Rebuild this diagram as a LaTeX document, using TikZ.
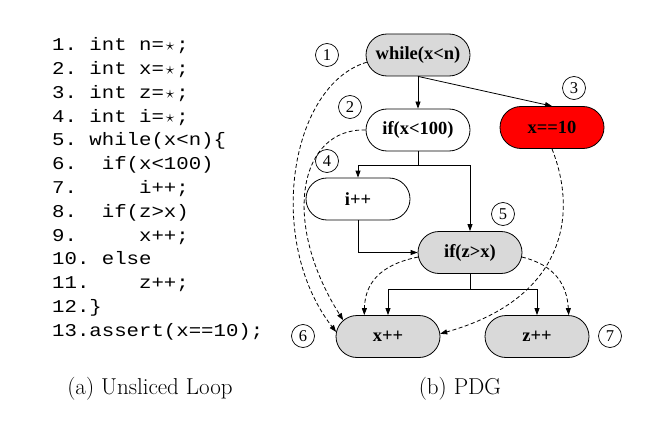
\documentclass[tikz,border=0pt]{standalone}
\usepackage{fontspec}
\usetikzlibrary{shapes.misc,arrows.meta}
\setmainfont{Latin Modern Roman}
\newfontfamily\codefont[FakeStretch=1.15]{Liberation Mono}
\newfontfamily\nodefont{Liberation Serif}
\newcommand\cspc{\hphantom{0}}
\newcommand\cstar{\hbox to \fontcharwd\font`0{\hss$\star$\hss}}
\definecolor{nodegray}{HTML}{D9D9D9}
\definecolor{nodered}{HTML}{FF0000}
\tikzset{
  pdg/.style={rounded rectangle, draw, line width=0.8pt, minimum width=104pt, minimum height=42pt,
    inner sep=0pt, font=\nodefont\bfseries\fontsize{18.5}{22}\selectfont},
  numc/.style={circle, draw, line width=0.7pt, minimum size=23pt, inner sep=0pt,
    font=\nodefont\fontsize{16.5}{18}\selectfont},
  codeline/.style={anchor=base west, inner sep=0pt, font=\codefont\fontsize{18}{20}\selectfont},
  captext/.style={anchor=base, inner sep=0pt, font=\fontsize{23}{26}\selectfont},
  arr/.style={line width=0.8pt, -{Triangle[length=7pt,width=5pt]}},
  darr/.style={arr, dash pattern=on 4pt off 2.5pt}
}
\begin{document}
\begin{tikzpicture}[x=1pt,y=-1pt]
\useasboundingbox (0,0) rectangle (646,428);
% code
\node[codeline] (l1) at (52,50.7) {1.\cspc int\cspc n=\cstar;};
\node[codeline] (l2) at (52,74.5) {2.\cspc int\cspc x=\cstar;};
\node[codeline] (l3) at (52,98.3) {3.\cspc int\cspc z=\cstar;};
\node[codeline] (l4) at (52,122.1) {4.\cspc int\cspc i=\cstar;};
\node[codeline] (l5) at (52,145.9) {5.\cspc while(x<n)\{};
\node[codeline] (l6) at (52,169.7) {6.\cspc\cspc if(x<100)};
\node[codeline] (l7) at (52,193.5) {7.\cspc\cspc\cspc\cspc\cspc i++;};
\node[codeline] (l8) at (52,217.3) {8.\cspc\cspc if(z>x)};
\node[codeline] (l9) at (52,241.1) {9.\cspc\cspc\cspc\cspc\cspc x++;};
\node[codeline] (l10) at (52,264.9) {10.\cspc else};
\node[codeline] (l11) at (52,288.7) {11.\cspc\cspc\cspc\cspc z++;};
\node[codeline] (l12) at (52,312.5) {12.\}};
\node[codeline] (l13) at (52,336.3) {13.assert(x==10);};
% captions
\node[captext] (capa) at (150,394) {(a)\ Unsliced Loop};
\node[captext] (capb) at (460,394) {(b)\ PDG};
% PDG nodes
\node[pdg, fill=nodegray] (while) at (418,55) {while(x<n)};
\node[pdg] (if1) at (418,130) {if(x<100)};
\node[pdg, fill=nodered] (eq) at (552,127.5) {x==10};
\node[pdg] (ipp) at (358,199) {i++};
\node[pdg, fill=nodegray] (ifz) at (470,252.5) {if(z>x)};
\node[pdg, fill=nodegray] (xpp) at (388,336.5) {x++};
\node[pdg, fill=nodegray] (zpp) at (537,336.5) {z++};
% numbers
\node[numc] (n1) at (327,55) {1};
\node[numc] (n2) at (350,107) {2};
\node[numc] (n3) at (574,88) {3};
\node[numc] (n4) at (327,161) {4};
\node[numc] (n5) at (503,214) {5};
\node[numc] (n6) at (303,336) {6};
\node[numc] (n7) at (610,336) {7};
% solid edges
\draw[arr] (while.south) -- (if1.north);
\draw[arr] (while.south) -- (eq.north);
\draw[arr] (if1.south) -- ++(0,14) -| (ipp.north);
\draw[arr] (if1.south) -- ++(0,14) -| (ifz.north);
\draw[arr] (ipp.south) |- (ifz.west);
\draw[arr] (ifz.south) -- ++(0,15) -| (xpp.north);
\draw[arr] (ifz.south) -- ++(0,15) -| (zpp.north);
% dashed edges
\draw[darr] (while.188) .. controls (290,85) and (265,240) .. (xpp.175);
\draw[darr] (if1.west) .. controls (300,128) and (280,220) .. (xpp.160);
\draw[darr] (eq.south) .. controls (580,220) and (560,300) .. (xpp.3);
\draw[darr] (ifz.185) .. controls (378,265) and (365,285) .. (xpp.138);
\draw[darr] (ifz.355) .. controls (555,265) and (567,285) .. (zpp.34);
\end{tikzpicture}
\end{document}
